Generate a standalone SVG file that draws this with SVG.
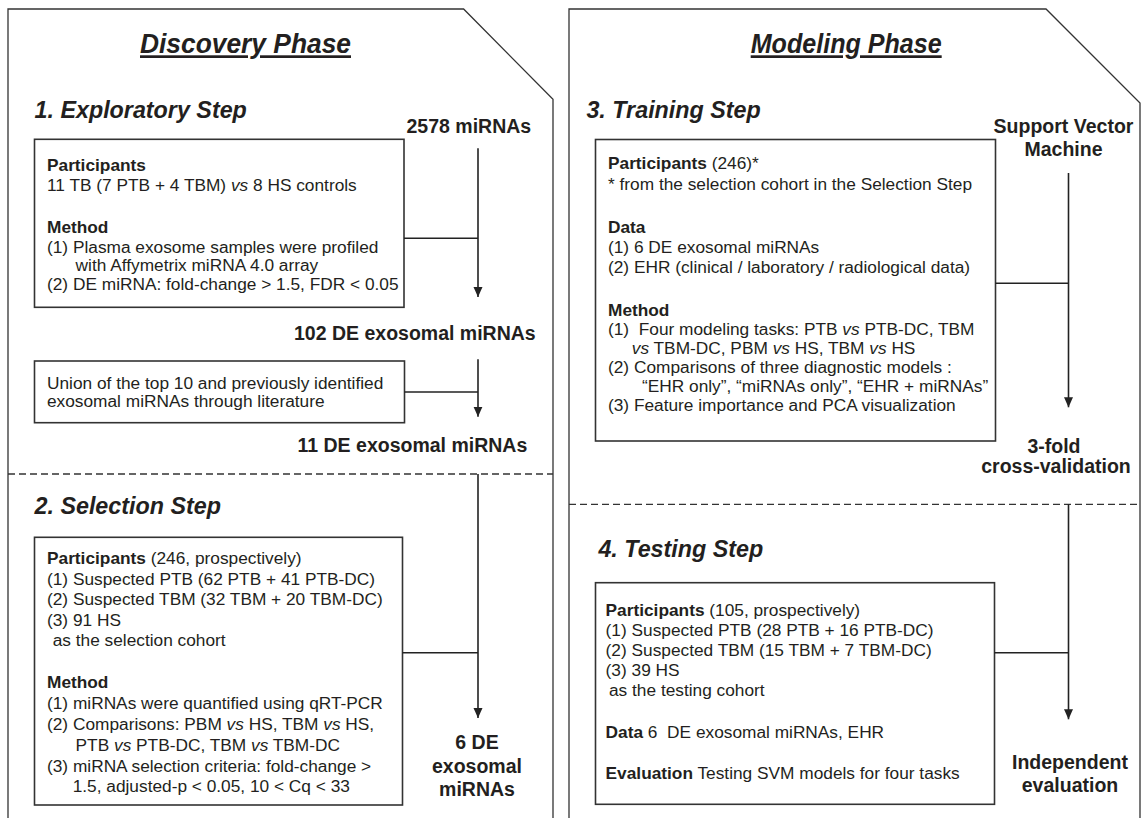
<svg xmlns="http://www.w3.org/2000/svg" width="1142" height="818" viewBox="0 0 1142 818">
<style>
.panel{fill:none;stroke:#333;stroke-width:1.3}
.box{fill:#fff;stroke:#333;stroke-width:1.6}
.ln{stroke:#222;stroke-width:1.6;fill:none}
.dash{stroke:#333;stroke-width:1.3;stroke-dasharray:7 4;fill:none}
text{font-family:"Liberation Sans",Arial,Helvetica,sans-serif;fill:#231f20}
.t{font-size:17.3px}
.b{font-weight:bold}
.i{font-style:italic}
.lab{font-size:19.5px;font-weight:bold}
.title{font-size:27px;font-weight:bold;font-style:italic;text-decoration:underline}
.step{font-size:23.3px;font-weight:bold;font-style:italic}
.c{text-anchor:middle}
</style>
<defs>
<marker id="ah" markerWidth="10" markerHeight="10" refX="10" refY="5" orient="auto" markerUnits="userSpaceOnUse">
<path d="M0,0.5 L10,5 L0,9.5 z" fill="#222"/>
</marker>
</defs>
<rect width="1142" height="818" fill="#fff"/>

<g id="discovery-panel">
<path class="panel" d="M8,822 L8,9 L463.6,9 L553,99.3 L553,822"/>
<line class="dash" x1="8" y1="474" x2="553" y2="474"/>
<text class="title" x="140" y="53.3" textLength="211" lengthAdjust="spacingAndGlyphs">Discovery Phase</text>
</g>

<g id="modeling-panel">
<path class="panel" d="M569,822 L569,9 L1046,9 L1140,103 L1140,822"/>
<line class="dash" x1="569" y1="504.3" x2="1140" y2="504.3"/>
<text class="title" x="750.7" y="53.3" textLength="191" lengthAdjust="spacingAndGlyphs">Modeling Phase</text>
</g>

<g id="step1">
<text class="step" x="34.5" y="118.3">1. Exploratory Step</text>
</g>
<g id="label-2578">
<text class="lab" x="406.5" y="133">2578 miRNAs</text>
</g>
<g id="box-exploratory">
<rect class="box" x="34.5" y="139.3" width="369.5" height="168"/>
<text class="t b" x="47" y="170.7">Participants</text>
<text class="t" x="47" y="191">11 TB (7 PTB + 4 TBM) <tspan class="i">vs</tspan> 8 HS controls</text>
<text class="t b" x="47" y="233.3">Method</text>
<text class="t" x="47" y="253">(1) Plasma exosome samples were profiled</text>
<text class="t" x="75.6" y="271">with Affymetrix miRNA 4.0 array</text>
<text class="t" x="47" y="289.5">(2) DE miRNA: fold-change &gt; 1.5, FDR &lt; 0.05</text>
</g>
<g id="label-102">
<text class="lab" x="294" y="340">102 DE exosomal miRNAs</text>
</g>
<g id="box-union">
<rect class="box" x="34.5" y="361" width="370" height="61.7"/>
<text class="t" x="47" y="389">Union of the top 10 and previously identified</text>
<text class="t" x="47" y="407.3">exosomal miRNAs through literature</text>
</g>
<g id="label-11">
<text class="lab" x="297.5" y="451.7">11 DE exosomal miRNAs</text>
</g>
<g id="step2">
<text class="step" x="34.5" y="514">2. Selection Step</text>
</g>
<g id="box-selection">
<rect class="box" x="34.5" y="537.3" width="368" height="267.7"/>
<text class="t" x="47" y="564"><tspan class="b">Participants</tspan> (246, prospectively)</text>
<text class="t" x="47" y="584.5">(1) Suspected PTB (62 PTB + 41 PTB-DC)</text>
<text class="t" x="47" y="605">(2) Suspected TBM (32 TBM + 20 TBM-DC)</text>
<text class="t" x="47" y="625.5">(3) 91 HS</text>
<text class="t" x="52.7" y="646">as the selection cohort</text>
<text class="t b" x="47" y="688">Method</text>
<text class="t" x="47" y="709">(1) miRNAs were quantified using qRT-PCR</text>
<text class="t" x="47" y="730">(2) Comparisons: PBM <tspan class="i">vs</tspan> HS, TBM <tspan class="i">vs</tspan> HS,</text>
<text class="t" x="75.6" y="751">PTB <tspan class="i">vs</tspan> PTB-DC, TBM <tspan class="i">vs</tspan> TBM-DC</text>
<text class="t" x="47" y="771.5">(3) miRNA selection criteria: fold-change &gt;</text>
<text class="t" x="72.7" y="792">1.5, adjusted-p &lt; 0.05, 10 &lt; Cq &lt; 33</text>
</g>
<g id="label-6de">
<text class="lab c" x="477" y="749">6 DE</text>
<text class="lab c" x="477" y="773">exosomal</text>
<text class="lab c" x="477" y="796">miRNAs</text>
</g>

<g id="step3">
<text class="step" x="586.4" y="118.3">3. Training Step</text>
</g>
<g id="label-svm">
<text class="lab c" x="1063.5" y="133">Support Vector</text>
<text class="lab c" x="1063.5" y="156">Machine</text>
</g>
<g id="box-training">
<rect class="box" x="595.5" y="139.5" width="400" height="301.5"/>
<text class="t" x="608" y="169.3"><tspan class="b">Participants</tspan> (246)*</text>
<text class="t" x="608" y="190">* from the selection cohort in the Selection Step</text>
<text class="t b" x="608" y="233">Data</text>
<text class="t" x="608" y="253">(1) 6 DE exosomal miRNAs</text>
<text class="t" x="608" y="273">(2) EHR (clinical / laboratory / radiological data)</text>
<text class="t b" x="608" y="316">Method</text>
<text class="t" x="608" y="335" xml:space="preserve">(1)  Four modeling tasks: PTB <tspan class="i">vs</tspan> PTB-DC, TBM</text>
<text class="t" x="631.8" y="354"><tspan class="i">vs</tspan> TBM-DC, PBM <tspan class="i">vs</tspan> HS, TBM <tspan class="i">vs</tspan> HS</text>
<text class="t" x="608" y="373">(2) Comparisons of three diagnostic models :</text>
<text class="t" x="642" y="392">“EHR only”, “miRNAs only”, “EHR + miRNAs”</text>
<text class="t" x="608" y="411">(3) Feature importance and PCA visualization</text>
</g>
<g id="label-cv">
<text class="lab c" x="1054" y="453.3">3-fold</text>
<text class="lab c" x="1056" y="473.3">cross-validation</text>
</g>
<g id="step4">
<text class="step" x="598.4" y="556.7">4. Testing Step</text>
</g>
<g id="box-testing">
<rect class="box" x="595.5" y="582.7" width="399" height="221.6"/>
<text class="t" x="605.6" y="616"><tspan class="b">Participants</tspan> (105, prospectively)</text>
<text class="t" x="605.6" y="636">(1) Suspected PTB (28 PTB + 16 PTB-DC)</text>
<text class="t" x="605.6" y="656">(2) Suspected TBM (15 TBM + 7 TBM-DC)</text>
<text class="t" x="605.6" y="676">(3) 39 HS</text>
<text class="t" x="609" y="696">as the testing cohort</text>
<text class="t" x="605.6" y="738" xml:space="preserve"><tspan class="b">Data</tspan> 6  DE exosomal miRNAs, EHR</text>
<text class="t" x="605.6" y="779"><tspan class="b">Evaluation</tspan> Testing SVM models for four tasks</text>
</g>
<g id="label-eval">
<text class="lab c" x="1070" y="769.3">Independent</text>
<text class="lab c" x="1070" y="791.7">evaluation</text>
</g>

<g id="connectors">
<line class="ln" x1="404" y1="238.3" x2="478" y2="238.3"/>
<line class="ln" x1="478" y1="148.3" x2="478" y2="297" marker-end="url(#ah)"/>
<line class="ln" x1="404.5" y1="392" x2="478" y2="392"/>
<line class="ln" x1="478" y1="359.3" x2="478" y2="416.7" marker-end="url(#ah)"/>
<line class="ln" x1="402.5" y1="652.7" x2="478" y2="652.7"/>
<line class="ln" x1="478" y1="474" x2="478" y2="718" marker-end="url(#ah)"/>
<line class="ln" x1="995.5" y1="283.3" x2="1068.5" y2="283.3"/>
<line class="ln" x1="1068.5" y1="173" x2="1068.5" y2="407.3" marker-end="url(#ah)"/>
<line class="ln" x1="994.5" y1="652.7" x2="1068.5" y2="652.7"/>
<line class="ln" x1="1068.5" y1="504.3" x2="1068.5" y2="719.3" marker-end="url(#ah)"/>
</g>
</svg>
